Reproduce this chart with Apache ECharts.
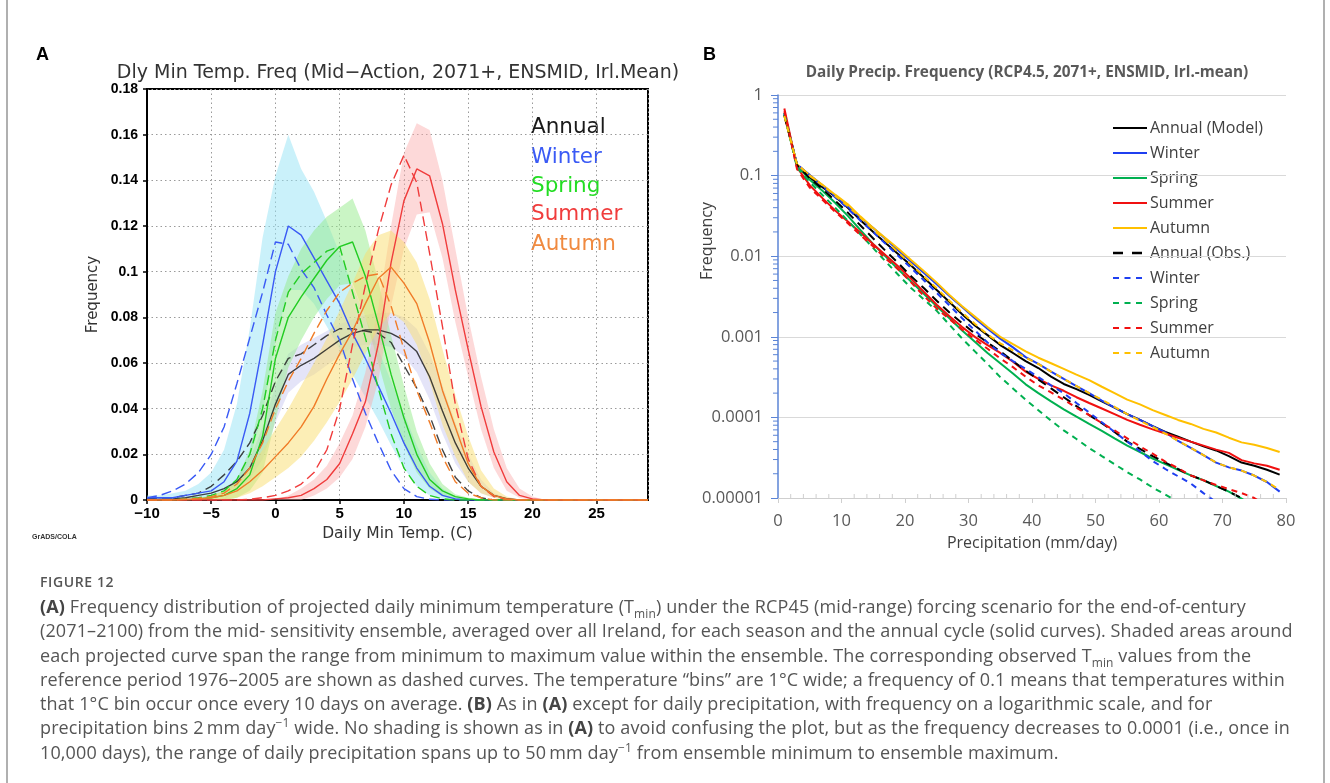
<!DOCTYPE html>
<html><head><meta charset="utf-8">
<script src="https://cdn.jsdelivr.net/npm/echarts@6/dist/echarts.min.js"></script>
<style>
html,body{margin:0;padding:0;background:#fff;}
#wrap{position:relative;width:1330px;height:783px;overflow:hidden;background:#fff;}
#chart{position:absolute;left:0;top:0;width:1330px;height:783px;}
.frame{position:absolute;top:0;width:2px;height:783px;background:#b0b0b0;}
#cap{position:absolute;left:40px;top:570px;font-family:"Open Sans",sans-serif;color:#555;white-space:nowrap;}
#cap .fig{font-size:14px;font-weight:600;letter-spacing:0.6px;color:#555;height:24px;line-height:24px;}
#cap .txt{font-size:18px;letter-spacing:0.12px;line-height:24.3px;}
#cap b{font-weight:700;color:#444;}
#cap sub,#cap sup{font-size:12px;line-height:0;}
</style></head>
<body><div id="wrap">
<div id="chart"></div>
<div class="frame" style="left:6px"></div>
<div class="frame" style="left:1323px"></div>
<div id="cap">
<div class="fig">FIGURE 12</div>
<div class="txt">
<b>(A)</b> Frequency distribution of projected daily minimum temperature (T<sub>min</sub>) under the RCP45 (mid-range) forcing scenario for the end-of-century<br>
(2071–2100) from the mid- sensitivity ensemble, averaged over all Ireland, for each season and the annual cycle (solid curves). Shaded areas around<br>
each projected curve span the range from minimum to maximum value within the ensemble. The corresponding observed T<sub>min</sub> values from the<br>
reference period 1976–2005 are shown as dashed curves. The temperature “bins” are 1°C wide; a frequency of 0.1 means that temperatures within<br>
that 1°C bin occur once every 10 days on average. <b>(B)</b> As in <b>(A)</b> except for daily precipitation, with frequency on a logarithmic scale, and for<br>
precipitation bins 2&#8201;mm day<sup>−1</sup> wide. No shading is shown as in <b>(A)</b> to avoid confusing the plot, but as the frequency decreases to 0.0001 (i.e., once in<br>
10,000 days), the range of daily precipitation spans up to 50&#8201;mm day<sup>−1</sup> from ensemble minimum to ensemble maximum.
</div></div>
</div>
<script>
// ---------- Panel A : daily minimum temperature bins (°C) ----------
const tempBins = [-10,-9,-8,-7,-6,-5,-4,-3,-2,-1,0,1,2,3,4,5,6,7,8,9,10,11,12,13,14,15,16,17,18,19,20,21,22,23,24,25,26,27,28,29];
const tempTicks = [-10,-5,0,5,10,15,20,25];
const freqTicks = [0,0.02,0.04,0.06,0.08,0.1,0.12,0.14,0.16,0.18];

const annualMod = [0,0.0003,0.0005,0.001,0.002,0.003,0.005,0.008,0.014,0.026,0.042,0.055,0.059,0.062,0.066,0.070,0.073,0.0745,0.0745,0.073,0.070,0.065,0.054,0.039,0.025,0.014,0.006,0.002,0.0006,0,0,0,0,0,0,0,0,0,0,0];
const annualObs = [0.0005,0.001,0.001,0.002,0.003,0.006,0.011,0.017,0.025,0.037,0.052,0.062,0.064,0.068,0.072,0.075,0.075,0.074,0.073,0.069,0.059,0.049,0.037,0.022,0.010,0.004,0.001,0,0,0,0,0,0,0,0,0,0,0,0,0];
const annualHi = [0,0,0,0,0,0,0,0.01,0.018,0.032,0.05,0.064,0.068,0.071,0.074,0.077,0.079,0.081,0.082,0.082,0.08,0.075,0.064,0.05,0.034,0.02,0.009,0.003,0.001,0,0,0,0,0,0,0,0,0,0,0];
const annualLo = [0,0,0,0,0,0,0,0.005,0.009,0.018,0.034,0.047,0.052,0.055,0.059,0.063,0.067,0.068,0.068,0.067,0.063,0.056,0.044,0.029,0.016,0.008,0.003,0.001,0,0,0,0,0,0,0,0,0,0,0,0];

const winterMod = [0.001,0.001,0.001,0.002,0.003,0.004,0.008,0.017,0.038,0.068,0.100,0.120,0.116,0.106,0.096,0.086,0.073,0.062,0.050,0.038,0.025,0.014,0.006,0.002,0.0005,0,0,0,0,0,0,0,0,0,0,0,0,0,0,0];
const winterObs = [0.001,0.002,0.004,0.007,0.012,0.020,0.032,0.051,0.071,0.091,0.113,0.112,0.101,0.093,0.081,0.070,0.053,0.038,0.025,0.013,0.005,0.0015,0.0003,0,0,0,0,0,0,0,0,0,0,0,0,0,0,0,0,0];
const winterHi = [0.002,0.002,0.003,0.004,0.007,0.012,0.022,0.042,0.075,0.115,0.142,0.160,0.145,0.135,0.122,0.108,0.094,0.080,0.066,0.052,0.038,0.024,0.012,0.005,0.0015,0,0,0,0,0,0,0,0,0,0,0,0,0,0,0];
const winterLo = [0,0,0,0,0.0005,0.001,0.003,0.007,0.018,0.038,0.07,0.092,0.092,0.086,0.076,0.066,0.055,0.045,0.035,0.024,0.014,0.006,0.002,0.0005,0,0,0,0,0,0,0,0,0,0,0,0,0,0,0,0];

const springMod = [0,0,0,0,0.0005,0.001,0.002,0.005,0.011,0.028,0.062,0.080,0.089,0.097,0.105,0.111,0.113,0.098,0.077,0.055,0.036,0.020,0.009,0.004,0.0015,0.0005,0,0,0,0,0,0,0,0,0,0,0,0,0,0];
const springObs = [0,0,0,0.0005,0.001,0.002,0.004,0.009,0.02,0.04,0.07,0.091,0.099,0.104,0.109,0.111,0.091,0.071,0.049,0.029,0.014,0.006,0.002,0.0005,0,0,0,0,0,0,0,0,0,0,0,0,0,0,0,0];
const springHi = [0,0,0,0,0.001,0.002,0.004,0.009,0.022,0.048,0.082,0.098,0.11,0.118,0.124,0.128,0.132,0.118,0.096,0.072,0.05,0.03,0.016,0.007,0.0025,0.001,0,0,0,0,0,0,0,0,0,0,0,0,0,0];
const springLo = [0,0,0,0,0,0,0,0.001,0.004,0.012,0.035,0.058,0.07,0.08,0.088,0.094,0.095,0.08,0.06,0.04,0.024,0.012,0.005,0.0015,0.0005,0,0,0,0,0,0,0,0,0,0,0,0,0,0,0];

const summerMod = [0,0,0,0,0,0,0,0,0,0,0.0005,0.001,0.002,0.005,0.009,0.016,0.029,0.043,0.068,0.104,0.131,0.145,0.142,0.121,0.092,0.066,0.041,0.021,0.008,0.002,0.0005,0,0,0,0,0,0,0,0,0];
const summerObs = [0,0,0,0,0,0,0,0,0.0003,0.001,0.002,0.004,0.007,0.012,0.022,0.040,0.068,0.094,0.118,0.138,0.151,0.139,0.108,0.076,0.042,0.018,0.006,0.0015,0.0003,0,0,0,0,0,0,0,0,0,0,0];
const summerHi = [0,0,0,0,0,0,0,0,0,0,0,0.002,0.005,0.009,0.015,0.025,0.037,0.056,0.084,0.12,0.152,0.165,0.162,0.14,0.11,0.08,0.054,0.031,0.014,0.005,0.0015,0,0,0,0,0,0,0,0,0];
const summerLo = [0,0,0,0,0,0,0,0,0,0,0,0,0,0.002,0.005,0.01,0.018,0.032,0.052,0.085,0.11,0.125,0.126,0.106,0.078,0.054,0.031,0.014,0.004,0.001,0,0,0,0,0,0,0,0,0,0];

const autumnMod = [0,0,0,0.0003,0.0005,0.001,0.002,0.004,0.008,0.013,0.019,0.025,0.032,0.041,0.053,0.064,0.074,0.086,0.097,0.102,0.095,0.086,0.069,0.048,0.032,0.016,0.006,0.002,0.0005,0,0,0,0,0,0,0,0,0,0,0];
const autumnObs = [0,0,0,0.0003,0.0008,0.0015,0.003,0.007,0.014,0.025,0.040,0.052,0.062,0.073,0.083,0.091,0.095,0.098,0.099,0.085,0.066,0.048,0.034,0.019,0.008,0.003,0.001,0,0,0,0,0,0,0,0,0,0,0,0,0];
const autumnHi = [0,0,0,0,0,0.002,0.004,0.008,0.014,0.022,0.031,0.040,0.05,0.06,0.071,0.083,0.095,0.108,0.116,0.118,0.113,0.104,0.088,0.066,0.046,0.028,0.013,0.005,0.0015,0,0,0,0,0,0,0,0,0,0,0];
const autumnLo = [0,0,0,0,0,0,0,0.001,0.003,0.006,0.01,0.014,0.019,0.026,0.034,0.043,0.053,0.064,0.075,0.082,0.078,0.068,0.052,0.033,0.019,0.008,0.003,0.001,0,0,0,0,0,0,0,0,0,0,0,0];

// ---------- Panel B : daily precipitation bins (mm/day, bin centres) ----------
const precipBins = [1,3,5,7,9,11,13,15,17,19,21,23,25,27,29,31,33,35,37,39,41,43,45,47,49,51,53,55,57,59,61,63,65,67,69,71,73,75,77,79];
const precipTicks = [0,10,20,30,40,50,60,70,80];
const logTicks = [1,0.1,0.01,0.001,0.0001,0.00001];

const pAnnualMod = [0.56,0.135,0.095,0.072,0.055,0.040,0.028,0.020,0.0145,0.0105,0.0076,0.0054,0.0038,0.0027,0.0019,0.00138,0.00105,0.00079,0.00063,0.0005,0.00041,0.00032,0.00026,0.000224,0.00019,0.000158,0.000132,0.00011,0.000093,0.000078,0.000066,0.0000575,0.00005,0.0000437,0.0000389,0.0000331,0.0000275,0.0000251,0.0000224,0.0000195];
const pWinterMod = [0.60,0.135,0.102,0.076,0.056,0.041,0.030,0.0224,0.0162,0.0117,0.0085,0.0062,0.0045,0.0032,0.00234,0.0017,0.00126,0.00095,0.00074,0.00056,0.00046,0.00037,0.0003,0.000245,0.0002,0.000162,0.000132,0.00011,0.000093,0.000078,0.000065,0.000051,0.000042,0.000034,0.0000275,0.000024,0.0000219,0.000019,0.0000158,0.000012];
const pSpringMod = [0.60,0.132,0.089,0.065,0.046,0.0316,0.021,0.0141,0.0098,0.0068,0.0048,0.0034,0.0024,0.0017,0.0012,0.00087,0.00063,0.00047,0.00035,0.000257,0.0002,0.000158,0.000126,0.000102,0.000083,0.000068,0.000055,0.0000447,0.0000372,0.0000309,0.0000263,0.0000224,0.0000191,0.0000166,0.0000141,0.000012,0.0000098,0.0000079,0.000006,0.000005];
const pSummerMod = [0.68,0.126,0.076,0.0525,0.037,0.027,0.0195,0.0141,0.0102,0.0074,0.0052,0.0036,0.0025,0.0018,0.00132,0.001,0.00079,0.00063,0.00049,0.00037,0.0003,0.00025,0.000214,0.000178,0.000151,0.000129,0.00011,0.000093,0.000081,0.000071,0.000063,0.000056,0.00005,0.0000447,0.0000398,0.0000363,0.0000295,0.0000269,0.0000251,0.0000224];
const pAutumnMod = [0.56,0.138,0.100,0.077,0.058,0.044,0.031,0.0224,0.0166,0.0123,0.0089,0.0065,0.0047,0.0033,0.0024,0.00178,0.00132,0.001,0.00081,0.00066,0.00055,0.00047,0.0004,0.00034,0.00029,0.00024,0.0002,0.000166,0.000145,0.000123,0.000107,0.000093,0.000083,0.000072,0.000065,0.000056,0.000049,0.0000457,0.0000417,0.0000372];
const pAnnualObs = [0.56,0.135,0.093,0.068,0.049,0.0347,0.024,0.0166,0.0115,0.0081,0.0056,0.004,0.0028,0.002,0.00148,0.0011,0.00085,0.00066,0.0005,0.00038,0.000295,0.000229,0.000178,0.000138,0.000107,0.000085,0.000066,0.00005,0.0000407,0.0000331,0.0000275,0.0000229,0.0000191,0.0000166,0.0000141,0.000012,0.00001,0.0000079,0.000006,0.000005];
const pWinterObs = [0.575,0.138,0.100,0.074,0.054,0.039,0.0275,0.020,0.0141,0.010,0.0071,0.005,0.0035,0.00245,0.0017,0.0012,0.00085,0.00063,0.0005,0.0004,0.000316,0.00025,0.0002,0.000151,0.000115,0.000087,0.000066,0.00005,0.000038,0.0000288,0.0000229,0.0000186,0.0000151,0.0000115,0.0000089,0.000007,0.0000055,0.0000045,0.0000035,0.000003];
const pSpringObs = [0.575,0.126,0.083,0.0575,0.040,0.0275,0.0186,0.0126,0.0085,0.0058,0.004,0.0029,0.0021,0.00141,0.00095,0.00066,0.00046,0.000316,0.000229,0.000166,0.000123,0.000091,0.000069,0.000054,0.0000417,0.0000331,0.0000263,0.0000209,0.000017,0.0000135,0.000011,0.0000089,0.000007,0.0000055,0.0000045,0.0000035,0.000003,0.0000025,0.000002,0.0000017];
const pSummerObs = [0.63,0.12,0.071,0.050,0.0355,0.0257,0.0182,0.0132,0.0093,0.0068,0.0047,0.0032,0.00224,0.00166,0.00123,0.00093,0.00071,0.00054,0.00042,0.00032,0.00025,0.000204,0.000166,0.000132,0.000107,0.000085,0.000069,0.000055,0.0000437,0.0000355,0.0000282,0.0000234,0.0000191,0.0000166,0.0000145,0.0000129,0.0000115,0.00001,0.0000079,0.000006];
const pAutumnObs = [0.55,0.138,0.100,0.076,0.056,0.042,0.030,0.0214,0.0155,0.011,0.0079,0.0056,0.004,0.0028,0.002,0.00145,0.00107,0.00083,0.00068,0.00055,0.00046,0.00037,0.0003,0.000245,0.0002,0.000166,0.000135,0.00011,0.000091,0.000076,0.000063,0.000051,0.000042,0.000034,0.0000275,0.000024,0.0000219,0.000019,0.0000158,0.0000126];

// ---------- styling ----------
const GF = '"DejaVu Sans", sans-serif';
const BF = '"Open Sans", sans-serif';
const CA = {annual:'#222222', winter:'#3a5af5', spring:'#22cc22', summer:'#f03c3c', autumn:'#f07c28'};
const SH = {annual:'rgba(195,195,240,0.45)', winter:'rgba(150,228,245,0.5)', spring:'rgba(150,235,140,0.5)', summer:'rgba(250,170,170,0.45)', autumn:'rgba(250,222,110,0.5)'};
const CB = {annual:'#000000', winter:'#1f3ff0', spring:'#00b050', summer:'#f01010', autumn:'#ffc000'};

function zip(xs, ys){ return xs.map((x,i)=>[x, ys[i]]); }

function band(key, lo, hi){
  return {
    type:'custom', name:'band-'+key, xAxisIndex:0, yAxisIndex:0, silent:true, z:1, clip:true,
    data:[[0,0]],
    renderItem:function(params, api){
      const pts = [];
      for (let i=0;i<tempBins.length;i++) pts.push(api.coord([tempBins[i], hi[i]]));
      for (let i=tempBins.length-1;i>=0;i--) pts.push(api.coord([tempBins[i], lo[i]]));
      return {type:'polygon', shape:{points:pts}, style:{fill:SH[key], stroke:null}};
    }
  };
}
function lineA(key, ys, dashed){
  return {type:'line', name:'A-'+key+(dashed?'-obs':'-mod'), xAxisIndex:0, yAxisIndex:0, data:zip(tempBins, ys),
    symbol:'none', silent:true, z:3, clip:true,
    lineStyle:{color:CA[key], width:1.4, type: dashed?[10,5]:'solid', opacity: key==='annual'?0.85:1}};
}
function lineB(name, key, ys, dashed){
  return {type:'line', name:name, xAxisIndex:1, yAxisIndex:1, data:zip(precipBins, ys),
    symbol:'none', silent:true, z:3, clip:true,
    lineStyle:{color:CB[key], width: 2, type: dashed ? (key==='annual'?[9,6]:[6,5]) : 'solid'}};
}

// minor ticks of panel B axes
const minorY = [];
[0.00001,0.0001,0.001,0.01,0.1].forEach(d=>{ for (let k=2;k<=9;k++) minorY.push([0, +(k*d).toPrecision(3)]); });
const minorX = [];
for (let v=2; v<80; v+=2) if (v%10!==0) minorX.push([v, 0.00001]);

const series = [
  band('annual', annualLo, annualHi),
  band('winter', winterLo, winterHi),
  band('spring', springLo, springHi),
  band('summer', summerLo, summerHi),
  band('autumn', autumnLo, autumnHi),
  lineA('annual', annualObs, true), lineA('annual', annualMod, false),
  lineA('winter', winterObs, true), lineA('winter', winterMod, false),
  lineA('spring', springObs, true), lineA('spring', springMod, false),
  lineA('summer', summerObs, true), lineA('summer', summerMod, false),
  lineA('autumn', autumnObs, true), lineA('autumn', autumnMod, false),
  lineB('Annual (Model)','annual', pAnnualMod, false),
  lineB('Winter','winter', pWinterMod, false),
  lineB('Spring','spring', pSpringMod, false),
  lineB('Summer','summer', pSummerMod, false),
  lineB('Autumn','autumn', pAutumnMod, false),
  lineB('Annual (Obs.)','annual', pAnnualObs, true),
  lineB('Winter ','winter', pWinterObs, true),
  lineB('Spring ','spring', pSpringObs, true),
  lineB('Summer ','summer', pSummerObs, true),
  lineB('Autumn ','autumn', pAutumnObs, true),
  {type:'custom', name:'minorY', xAxisIndex:1, yAxisIndex:1, silent:true, clip:false, z:4, data:minorY,
   renderItem:function(p, api){ const c = api.coord([api.value(0), api.value(1)]);
     return {type:'line', shape:{x1:c[0]-5, y1:c[1], x2:c[0], y2:c[1]}, style:{stroke:'#5b84d6', lineWidth:1}}; }},
  {type:'custom', name:'minorX', xAxisIndex:1, yAxisIndex:1, silent:true, clip:false, z:4, data:minorX,
   renderItem:function(p, api){ const c = api.coord([api.value(0), api.value(1)]);
     return {type:'line', shape:{x1:c[0], y1:c[1], x2:c[0], y2:c[1]-4}, style:{stroke:'#cfcfcf', lineWidth:1}}; }}
];

// legend of panel B (drawn as graphic items)
const legendB = [
  ['Annual (Model)','annual',false],['Winter','winter',false],['Spring','spring',false],['Summer','summer',false],['Autumn','autumn',false],
  ['Annual (Obs.)','annual',true],['Winter','winter',true],['Spring','spring',true],['Summer','summer',true],['Autumn','autumn',true]
];
const legendA = [['Annual','#1a1a1a'],['Winter','#3a5af5'],['Spring','#22dd22'],['Summer','#f03c3c'],['Autumn','#f08a40']];

const graphic = [
  {type:'text', x:36, y:55, style:{text:'A', font:'bold 18px "Liberation Sans", Arial, sans-serif', fill:'#000', textVerticalAlign:'middle'}},
  {type:'text', x:703, y:55, style:{text:'B', font:'bold 18px "Liberation Sans", Arial, sans-serif', fill:'#000', textVerticalAlign:'middle'}},
  {type:'text', x:398, y:73, style:{text:'Dly Min Temp. Freq (Mid−Action, 2071+, ENSMID, Irl.Mean)', font:'19px '+GF, fill:'#333', textAlign:'center', textVerticalAlign:'middle'}},
  {type:'text', x:1027, y:73, style:{text:'Daily Precip. Frequency (RCP4.5, 2071+, ENSMID, Irl.-mean)', font:'bold 15.3px '+BF, fill:'#595959', textAlign:'center', textVerticalAlign:'middle'}},
  {type:'text', x:32, y:537, style:{text:'GrADS/COLA', font:'bold 7px "Liberation Sans", Arial, sans-serif', fill:'#333', textVerticalAlign:'middle'}},
  {type:'text', x:707, y:241, rotation:Math.PI/2, style:{text:'Frequency', font:'16px '+BF, fill:'#404040', textAlign:'center', textVerticalAlign:'middle'}},
  {type:'text', x:1032, y:543, style:{text:'Precipitation (mm/day)', font:'16px '+BF, fill:'#404040', textAlign:'center', textVerticalAlign:'middle'}}
];
const aY = [127,157,186,214,244];
legendA.forEach((it,i)=>graphic.push({type:'text', x:531, y:aY[i], style:{text:it[0], font:'21.5px '+GF, fill:it[1], textVerticalAlign:'middle'}}));
legendB.forEach((it,i)=>{
  const y = 128 + 25*i;
  const dash = it[2] ? (it[1]==='annual'?[10,9]:[6,5.5]) : null;
  graphic.push({type:'line', shape:{x1:1113, y1:y, x2:1147, y2:y}, style:{stroke:CB[it[1]], lineWidth: it[2]&&it[1]==='annual'?2.5:2, lineDash:dash}});
  graphic.push({type:'text', x:1150, y:y, style:{text:it[0], font:'16px '+BF, fill:'#404040', textVerticalAlign:'middle'}});
});

const fmtA = v => (v===0 ? '0' : String(+v.toFixed(2)));
const fmtT = v => (tempTicks.indexOf(v)<0 ? '' : (v<0 ? '−'+Math.abs(v) : String(v)));
const fmtLog = v => { const e = Math.round(Math.log10(v)); const s = logTicks.find(t=>Math.round(Math.log10(t))===e); return s===1?'1':s.toFixed(-e); };

const option = {
  animation:false,
  backgroundColor:'transparent',
  grid:[
    {left:147, top:89, width:501, height:411, show:true, borderColor:'#000', borderWidth:2, backgroundColor:'transparent'},
    {left:778, top:95, width:508, height:403, show:false}
  ],
  xAxis:[
    {gridIndex:0, type:'value', min:-10, max:29, interval:5,
     axisLine:{show:true, onZero:false, lineStyle:{color:'#000', width:2}},
     axisTick:{show:true, length:4, lineStyle:{color:'#000', width:1.5}},
     axisLabel:{formatter:fmtT, color:'#000', fontFamily:'"Liberation Sans", Arial, sans-serif', fontWeight:'bold', fontSize:15, margin:6, showMaxLabel:false},
     splitLine:{show:true, lineStyle:{color:'#9a9a9a', width:1, type:[1.5,3]}},
     name:'Daily Min Temp. (C)', nameLocation:'middle', nameGap:19,
     nameTextStyle:{fontFamily:GF, fontSize:15.5, color:'#333'}},
    {gridIndex:1, type:'value', min:0, max:80, interval:10,
     axisLine:{show:true, onZero:false, lineStyle:{color:'#cfcfcf', width:1.2}},
     axisTick:{show:true, length:5, lineStyle:{color:'#cfcfcf'}},
     axisLabel:{color:'#595959', fontFamily:BF, fontSize:16.5, margin:15},
     splitLine:{show:false}}
  ],
  yAxis:[
    {gridIndex:0, type:'value', min:0, max:0.18, interval:0.02,
     axisLine:{show:true, onZero:false, lineStyle:{color:'#000', width:2}},
     axisTick:{show:true, length:4, lineStyle:{color:'#000', width:1.5}},
     axisLabel:{formatter:fmtA, color:'#000', fontFamily:'"Liberation Sans", Arial, sans-serif', fontWeight:'bold', fontSize:14, margin:9},
     splitLine:{show:true, lineStyle:{color:'#9a9a9a', width:1, type:[1.5,3]}},
     name:'Frequency', nameLocation:'middle', nameGap:46,
     nameTextStyle:{fontFamily:GF, fontSize:15, color:'#333'}},
    {gridIndex:1, type:'log', logBase:10, min:0.00001, max:1, splitNumber:5,
     axisLine:{show:true, onZero:false, lineStyle:{color:'#5b84d6', width:1.5}},
     axisTick:{show:true, length:7, lineStyle:{color:'#5b84d6', width:1}},
     axisLabel:{formatter:fmtLog, color:'#595959', fontFamily:BF, fontSize:16.5, margin:15},
     splitLine:{show:true, lineStyle:{color:'#d9d9d9', width:1.2}}}
  ],
  graphic:graphic,
  series:series
};
const chart = echarts.init(document.getElementById('chart'), null, {renderer:'canvas'});
chart.setOption(option);
</script>
</body></html>
